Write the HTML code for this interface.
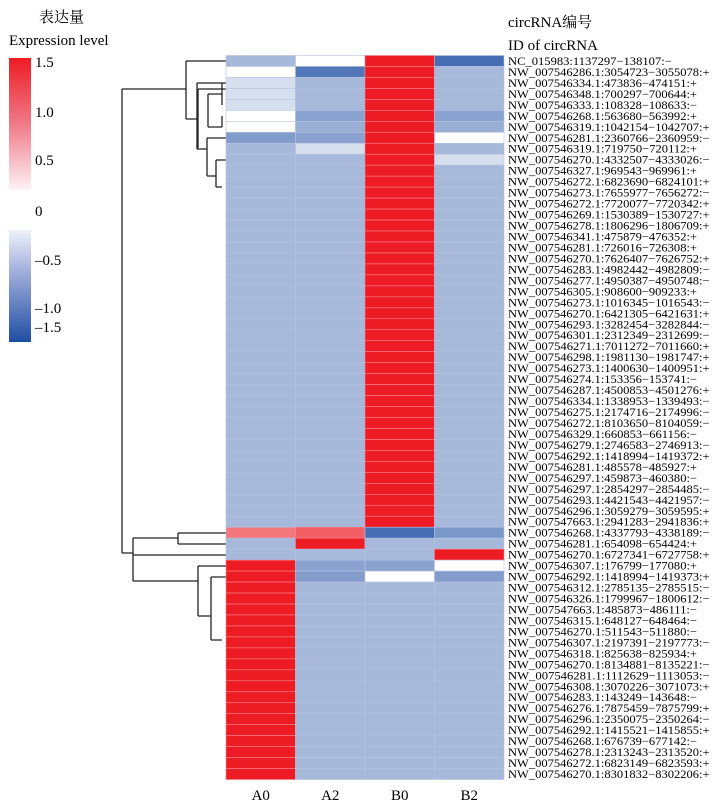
<!DOCTYPE html>
<html><head><meta charset="utf-8">
<style>
html,body{margin:0;padding:0;background:#fff;}
svg{display:block;font-family:"Liberation Serif","Noto Serif CJK SC",serif;}
</style></head>
<body>
<svg id="chart" width="723" height="809" viewBox="0 0 723 809">
  <defs>
    <linearGradient id="gRed" x1="0" y1="0" x2="0" y2="1">
      <stop offset="0" stop-color="#ed1c24"/>
      <stop offset="0.5" stop-color="#f07a88"/>
      <stop offset="1" stop-color="#fdf2f6"/>
    </linearGradient>
    <linearGradient id="gBlue" x1="0" y1="0" x2="0" y2="1">
      <stop offset="0" stop-color="#eef2fa"/>
      <stop offset="0.35" stop-color="#a5b2dd"/>
      <stop offset="1" stop-color="#1e4ea3"/>
    </linearGradient>
  </defs>
  <g>
    <text x="39" y="22" font-size="15">表达量</text>
    <text x="9" y="45" font-size="15">Expression level</text>
    <rect x="9" y="58" width="22" height="132" fill="url(#gRed)"/>
    <rect x="9" y="230" width="22" height="112" fill="url(#gBlue)"/>
    <g font-size="15">
      <text x="35" y="67">1.5</text>
      <text x="35" y="117">1.0</text>
      <text x="35" y="165">0.5</text>
      <text x="35" y="216">0</text>
      <text x="35" y="265">–0.5</text>
      <text x="35" y="313">–1.0</text>
      <text x="35" y="332">–1.5</text>
    </g>
  </g>
  <text x="508" y="27" font-size="15">circRNA编号</text>
  <text x="508" y="50" font-size="15">ID of circRNA</text>
  <g id="dendro" stroke="#222" stroke-width="1.3" fill="none">
    <path d="M122,89 V553"/>
    <path d="M122,89 H186 M186,61 V119 M186,61 H226 M186,119 H197 M197,83 V149 M197,83 H226 M197,149 H198"/>
    <path d="M198,89 V148 M198,89 H226"/>
    <path d="M208,94 V127 M208,94 H222 M222,83 V105 M208,127 H222 M222,116 V127"/>
    <path d="M197,149 H207 M207,138 V176 M207,138 H226 M207,176 H216 M216,160 V187 M216,160 H226 M216,187 H222"/>
    <path d="M122,553 H133 M133,538 V581 M133,538 H178 M178,533 V544 M178,533 H226 M178,544 H226"/>
    <path d="M133,555 H226 M133,581 H198 M198,566 V616 M198,566 H226 M198,616 H211 M211,577 V640 M211,577 H226 M211,640 H222"/>
  </g>
  <g id="cells"></g>
  <g id="rowlabels" font-size="11.5"></g>
  <g id="collabels" font-size="15" text-anchor="middle"></g>
</svg>
<script>
const samples = ["A0","A2","B0","B2"];
const rowIds = [
"NC_015983:1137297−138107:−","NW_007546286.1:3054723−3055078:+","NW_007546334.1:473836−474151:+","NW_007546348.1:700297−700644:+","NW_007546333.1:108328−108633:−","NW_007546268.1:563680−563992:+","NW_007546319.1:1042154−1042707:+","NW_007546281.1:2360766−2360959:−","NW_007546319.1:719750−720112:+","NW_007546270.1:4332507−4333026:−","NW_007546327.1:969543−969961:+","NW_007546272.1:6823690−6824101:+","NW_007546273.1:7655977−7656272:−","NW_007546272.1:7720077−7720342:+","NW_007546269.1:1530389−1530727:+","NW_007546278.1:1806296−1806709:+","NW_007546341.1:475879−476352:+","NW_007546281.1:726016−726308:+","NW_007546270.1:7626407−7626752:+","NW_007546283.1:4982442−4982809:−","NW_007546277.1:4950387−4950748:−","NW_007546305.1:908600−909233:+","NW_007546273.1:1016345−1016543:−","NW_007546270.1:6421305−6421631:+","NW_007546293.1:3282454−3282844:−","NW_007546301.1:2312349−2312699:−","NW_007546271.1:7011272−7011660:+","NW_007546298.1:1981130−1981747:+","NW_007546273.1:1400630−1400951:+","NW_007546274.1:153356−153741:−","NW_007546287.1:4500853−4501276:+","NW_007546334.1:1338953−1339493:−","NW_007546275.1:2174716−2174996:−","NW_007546272.1:8103650−8104059:−","NW_007546329.1:660853−661156:−","NW_007546279.1:2746583−2746913:−","NW_007546292.1:1418994−1419372:+","NW_007546281.1:485578−485927:+","NW_007546297.1:459873−460380:−","NW_007546297.1:2854297−2854485:−","NW_007546293.1:4421543−4421957:−","NW_007546296.1:3059279−3059595:+","NW_007547663.1:2941283−2941836:+","NW_007546268.1:4337793−4338189:−","NW_007546281.1:654098−654424:+","NW_007546270.1:6727341−6727758:+","NW_007546307.1:176799−177080:+","NW_007546292.1:1418994−1419373:+","NW_007546312.1:2785135−2785515:−","NW_007546326.1:1799967−1800612:−","NW_007547663.1:485873−486111:−","NW_007546315.1:648127−648464:−","NW_007546270.1:511543−511880:−","NW_007546307.1:2197391−2197773:−","NW_007546318.1:825638−825934:+","NW_007546270.1:8134881−8135221:−","NW_007546281.1:1112629−1113053:−","NW_007546308.1:3070226−3071073:+","NW_007546283.1:143249−143648:−","NW_007546276.1:7875459−7875799:+","NW_007546296.1:2350075−2350264:−","NW_007546292.1:1415521−1415855:+","NW_007546268.1:676739−677142:−","NW_007546278.1:2313243−2313520:+","NW_007546272.1:6823149−6823593:+","NW_007546270.1:8301832−8302206:+"
];
const valA0 = [-0.5,0,-0.2,-0.2,-0.2,0,0,-0.75,-0.5,-0.5,
-0.5,-0.5,-0.5,-0.5,-0.5,-0.5,-0.5,-0.5,-0.5,-0.5,-0.5,-0.5,-0.5,-0.5,-0.5,-0.5,-0.5,-0.5,-0.5,-0.5,-0.5,-0.5,-0.5,-0.5,-0.5,-0.5,-0.5,-0.5,-0.5,-0.5,-0.5,-0.5,-0.5,
0.9,-0.5,-0.5,1.5,1.5,1.5,1.5,1.5,1.5,1.5,1.5,1.5,1.5,1.5,1.5,1.5,1.5,1.5,1.5,1.5,1.5,1.5,1.5];
const valA2 = [0,-1.1,-0.5,-0.5,-0.5,-0.7,-0.6,-0.7,-0.2,-0.5,
-0.5,-0.5,-0.5,-0.5,-0.5,-0.5,-0.5,-0.5,-0.5,-0.5,-0.5,-0.5,-0.5,-0.5,-0.5,-0.5,-0.5,-0.5,-0.5,-0.5,-0.5,-0.5,-0.5,-0.5,-0.5,-0.5,-0.5,-0.5,-0.5,-0.5,-0.5,-0.5,-0.5,
1.05,1.5,-0.5,-0.7,-0.75,-0.5,-0.5,-0.5,-0.5,-0.5,-0.5,-0.5,-0.5,-0.5,-0.5,-0.5,-0.5,-0.5,-0.5,-0.5,-0.5,-0.5,-0.5];
const valB0 = [1.5,1.5,1.5,1.5,1.5,1.5,1.5,1.5,1.5,1.5,
1.5,1.5,1.5,1.5,1.5,1.5,1.5,1.5,1.5,1.5,1.5,1.5,1.5,1.5,1.5,1.5,1.5,1.5,1.5,1.5,1.5,1.5,1.5,1.5,1.5,1.5,1.5,1.5,1.5,1.5,1.5,1.5,1.5,
-1.2,-0.5,-0.5,-0.7,0,-0.5,-0.5,-0.5,-0.5,-0.5,-0.5,-0.5,-0.5,-0.5,-0.5,-0.5,-0.5,-0.5,-0.5,-0.5,-0.5,-0.5,-0.5];
const valB2 = [-1.2,-0.5,-0.5,-0.5,-0.5,-0.7,-0.6,0,-0.5,-0.2,
-0.5,-0.5,-0.5,-0.5,-0.5,-0.5,-0.5,-0.5,-0.5,-0.5,-0.5,-0.5,-0.5,-0.5,-0.5,-0.5,-0.5,-0.5,-0.5,-0.5,-0.5,-0.5,-0.5,-0.5,-0.5,-0.5,-0.5,-0.5,-0.5,-0.5,-0.5,-0.5,-0.5,
-0.8,-0.5,1.5,0,-0.75,-0.5,-0.5,-0.5,-0.5,-0.5,-0.5,-0.5,-0.5,-0.5,-0.5,-0.5,-0.5,-0.5,-0.5,-0.5,-0.5,-0.5,-0.5];
const seriesVals = [valA0, valA2, valB0, valB2];

const X0 = 226, colW = 69.5, Y0 = 55.5, rowH = 10.97;
function xScale(i){ return X0 + i*colW; }
function yScale(j){ return Y0 + j*rowH; }
function lerp(a,b,t){ return Math.round(a+(b-a)*t); }
function color(v){
  if (v >= 0){
    const t = Math.min(v/1.5,1);
    return `rgb(${lerp(255,237,t)},${lerp(255,28,t)},${lerp(255,36,t)})`;
  }
  const t = Math.pow(Math.min(-v/1.5,1),0.85);
  return `rgb(${lerp(255,30,t)},${lerp(255,78,t)},${lerp(255,163,t)})`;
}
const NS = "http://www.w3.org/2000/svg";
const cells = document.getElementById("cells");
seriesVals.forEach((vals, i) => {
  vals.forEach((v, j) => {
    const r = document.createElementNS(NS, "rect");
    r.setAttribute("x", xScale(i));
    r.setAttribute("y", yScale(j));
    r.setAttribute("width", colW);
    r.setAttribute("height", rowH);
    r.setAttribute("fill", color(v));
    r.setAttribute("stroke", v >= 1 ? "#f4858c" : "#b8c1e3");
    r.setAttribute("stroke-width", "0.6");
    
    
    cells.appendChild(r);
  });
});
const rl = document.getElementById("rowlabels");
rowIds.forEach((id, j) => {
  const t = document.createElementNS(NS, "text");
  t.setAttribute("x", 508);
  t.setAttribute("y", yScale(j) + rowH/2 + 4);
  t.setAttribute("textLength", (id.length * 6.3).toFixed(1));
  t.setAttribute("lengthAdjust", "spacingAndGlyphs");
  t.textContent = id;
  
  
  rl.appendChild(t);
});
const cl = document.getElementById("collabels");
samples.forEach((s, i) => {
  const t = document.createElementNS(NS, "text");
  t.setAttribute("x", xScale(i) + colW/2);
  t.setAttribute("y", 800);
  t.textContent = s;
  
  
  cl.appendChild(t);
});
</script>
</body></html>
